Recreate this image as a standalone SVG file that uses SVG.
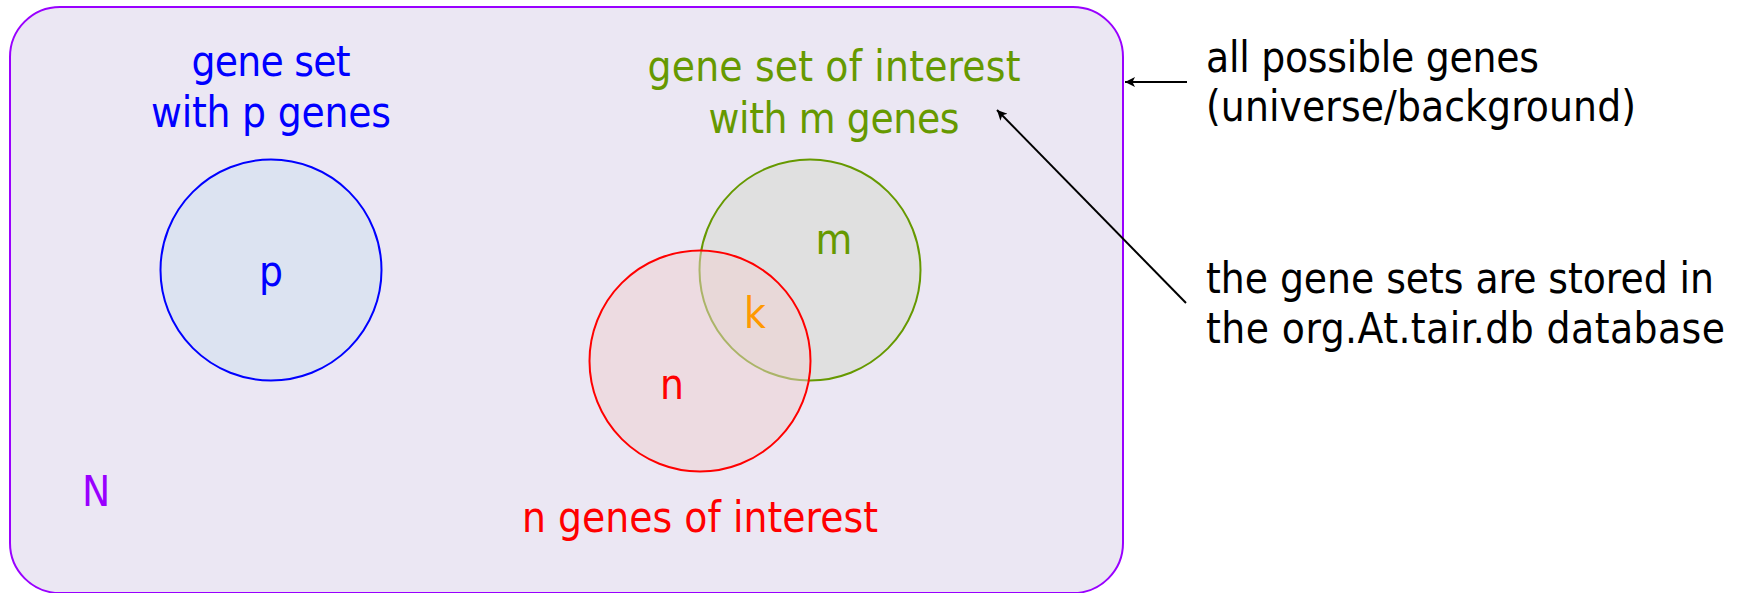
<svg xmlns="http://www.w3.org/2000/svg" width="1738" height="593" viewBox="0 0 1738 593">
<style>
text{font-family:"DejaVu Sans Condensed","DejaVu Sans",sans-serif;font-stretch:condensed;font-size:42px}
.c{text-anchor:middle}
.blue{fill:#0000ff}
.green{fill:#669900}
.red{fill:#ff0000}
.blk{fill:#000}
.conn{stroke:#000;stroke-width:2;fill:none}
</style>
<defs>
<marker id="ah" viewBox="0 0 10 10" refX="10" refY="5" markerWidth="13" markerHeight="10" markerUnits="userSpaceOnUse" orient="auto">
<path d="M0,0 L10,5 L0,10 L2.5,5 Z" fill="#000"/>
</marker>
</defs>
<rect width="1738" height="593" fill="#fff"/>
<g id="universe">
<rect x="10" y="7" width="1113" height="586" rx="50" ry="50" fill="#ebe7f3" stroke="#9900ff" stroke-width="2"/>
<text x="82" y="506" fill="#9900ff">N</text>
</g>
<g id="setP">
<circle cx="271" cy="270" r="110.5" fill="#dce3f1" stroke="#0000ff" stroke-width="2"/>
<text class="c blue" x="271" y="286">p</text>
<text class="c blue" x="271" y="76" textLength="159">gene set</text>
<text class="c blue" x="271" y="127" textLength="240">with p genes</text>
</g>
<g id="setM">
<circle cx="810" cy="270" r="110.5" fill="#669900" fill-opacity="0.08" stroke="#669900" stroke-width="2"/>
<text class="c green" x="834" y="254">m</text>
<text class="c green" x="834" y="81" textLength="373">gene set of interest</text>
<text class="c green" x="834" y="133" textLength="251">with m genes</text>
</g>
<g id="setN">
<circle cx="700" cy="361" r="110.5" fill="#efcfcf" fill-opacity="0.5" stroke="#ff0000" stroke-width="2"/>
<text class="c red" x="672" y="399">n</text>
<text class="c red" x="700" y="532" textLength="356">n genes of interest</text>
</g>
<g id="intersection">
<text class="c" x="755" y="328" fill="#ff9900">k</text>
</g>
<g id="note-universe">
<text class="blk" x="1206" y="72" textLength="333">all possible genes</text>
<text class="blk" x="1206" y="121" textLength="430">(universe/background)</text>
</g>
<g id="note-db">
<text class="blk" x="1206" y="293" textLength="508">the gene sets are stored in</text>
<text class="blk" x="1206" y="343" textLength="519">the org.At.tair.db database</text>
</g>
<g id="connectors">
<line class="conn" x1="1187" y1="82" x2="1125" y2="82" marker-end="url(#ah)"/>
<line class="conn" x1="1186" y1="303" x2="997" y2="110" marker-end="url(#ah)"/>
</g>
</svg>
